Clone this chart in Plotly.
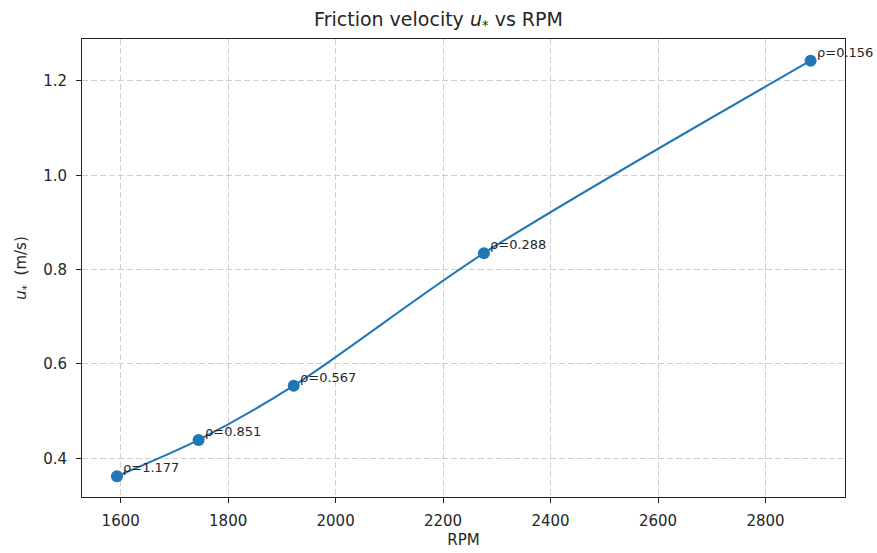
import plotly.graph_objects as go

rpm = [1593, 1745, 1922, 2276, 2884]
u_star = [0.362, 0.439, 0.554, 0.835, 1.243]
rho_labels = ["ρ=1.177", "ρ=0.851", "ρ=0.567", "ρ=0.288", "ρ=0.156"]

x_ticks = [1600, 1800, 2000, 2200, 2400, 2600, 2800]
y_ticks = [0.4, 0.6, 0.8, 1.0, 1.2]

blue = "#1f77b4"
font = "DejaVu Sans, Arial, sans-serif"
txt = "#262626"

fig = go.Figure()
fig.add_trace(go.Scatter(x=rpm, y=u_star, mode="lines",
                         line=dict(color=blue, width=2, shape="spline", smoothing=0.8),
                         hoverinfo="skip", showlegend=False))
fig.add_trace(go.Scatter(x=rpm, y=u_star, mode="markers",
                         marker=dict(color=blue, size=12),
                         showlegend=False))

for xv, yv, t in zip(rpm, u_star, rho_labels):
    fig.add_annotation(x=xv, y=yv, text=t, showarrow=False,
                       xanchor="left", yanchor="bottom", xshift=4, yshift=-1,
                       font=dict(family=font, size=13, color=txt))

axis_common = dict(showline=True, linecolor="#222", linewidth=1, mirror=True,
                   ticks="outside", ticklen=5, tickcolor="#222", automargin=False,
                   showgrid=True, gridcolor="#cfcfcf", griddash="6px,3px", gridwidth=1,
                   zeroline=False, tickfont=dict(family=font, size=15, color=txt))

fig.update_xaxes(range=[1528, 2948], tickvals=x_ticks, ticklabelstandoff=5,
                 title=dict(text="RPM", font=dict(family=font, size=15, color=txt), standoff=5),
                 **axis_common)
fig.update_yaxes(range=[0.318, 1.289], tickvals=y_ticks, tickformat=".1f", ticklabelstandoff=6,
                 title=dict(text="<i>u</i><sub>*</sub>  (m/s)", font=dict(family=font, size=15, color=txt), standoff=12),
                 **axis_common)

fig.update_layout(
    width=877, height=553,
    margin=dict(l=82, r=32, t=39, b=56),
    plot_bgcolor="white", paper_bgcolor="white",
    title=dict(text="Friction velocity <i>u</i><sub>*</sub> vs RPM", x=0.5, xanchor="center",
               y=1 - 19/553, yanchor="middle",
               font=dict(family=font, size=19, color=txt)),
)

fig.write_html("out.html")
